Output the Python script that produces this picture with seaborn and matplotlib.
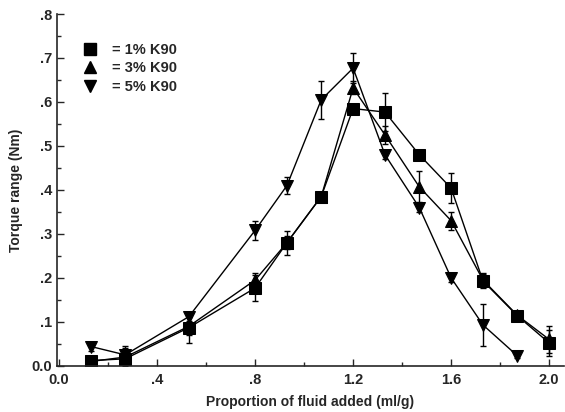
import numpy as np
import pandas as pd
import matplotlib
matplotlib.use("Agg")
import matplotlib.pyplot as plt
from matplotlib.lines import Line2D
from matplotlib.ticker import MultipleLocator
import seaborn as sns

sns.set_style("ticks")
plt.rcParams['font.family'] = ['Liberation Sans', 'DejaVu Sans']
plt.rcParams['font.weight'] = 'bold'

# fluid added (ml/g)
fluid = [0.13, 0.27, 0.53, 0.80, 0.93, 1.07, 1.20, 1.33, 1.47, 1.60, 1.73, 1.87, 2.00]

k1 = [0.012, 0.016, 0.087, 0.177, 0.280, 0.385, 0.585, 0.577, 0.480, 0.404, 0.193, 0.114, 0.052]
k1_err = [0.010, 0.030, 0.035, 0.030, 0.027, 0.010, 0.010, 0.043, 0.008, 0.034, 0.015, 0.008, 0.030]

k3 = [0.010, 0.020, 0.090, 0.195, 0.280, 0.385, 0.632, 0.525, 0.407, 0.330, 0.195, 0.115, 0.060]
k3_err = [0.010, 0.020, 0.020, 0.015, 0.015, 0.010, 0.015, 0.020, 0.035, 0.020, 0.015, 0.008, 0.030]

k5 = [0.044, 0.025, 0.112, 0.308, 0.410, 0.605, 0.677, 0.480, 0.360, 0.200, 0.093, 0.023]
k5_err = [0.010, 0.010, 0.010, 0.022, 0.020, 0.043, 0.034, 0.010, 0.010, 0.010, 0.047, 0.005]

labels = ['= 1% K90', '= 3% K90', '= 5% K90']
markers = ['s', '^', 'v']

series = [(k1, k1_err), (k3, k3_err), (k5, k5_err)]
frames = []
for lab, (vals, errs) in zip(labels, series):
    frames.append(pd.DataFrame({'fluid': fluid[:len(vals)], 'torque': vals,
                                'err': errs, 'group': lab}))
df = pd.concat(frames, ignore_index=True)

fig = plt.figure(figsize=(5.65, 4.12), dpi=100)
ax = fig.add_axes([0.101, 0.112, 0.897, 0.854])

sns.lineplot(data=df, x='fluid', y='torque', hue='group', style='group',
             palette=['black'] * 3, markers=dict(zip(labels, markers)),
             dashes=False, markersize=8, markeredgecolor='black',
             linewidth=1, legend=False, ax=ax)

for lab in labels:
    d = df[df.group == lab]
    ax.errorbar(d.fluid, d.torque, yerr=d.err, fmt='none', ecolor='black',
                elinewidth=1, capsize=2, capthick=1)

ax.set_xlim(-0.008, 2.06)
ax.set_ylim(0, 0.8)
ax.xaxis.set_major_locator(MultipleLocator(0.4))
ax.xaxis.set_minor_locator(MultipleLocator(0.2))
ax.yaxis.set_major_locator(MultipleLocator(0.1))
ax.yaxis.set_minor_locator(MultipleLocator(0.05))
ax.set_xticks([0, 0.4, 0.8, 1.2, 1.6, 2.0])
ax.set_xticklabels(['0.0', '.4', '.8', '1.2', '1.6', '2.0'])
ax.set_yticks([0, .1, .2, .3, .4, .5, .6, .7, .8])
ax.set_yticklabels(['0.0', '.1', '.2', '.3', '.4', '.5', '.6', '.7', '.8'])
ax.tick_params(which='major', direction='in', length=5, width=1, labelsize=10.5)
ax.tick_params(which='minor', direction='in', length=3, width=1)
ax.tick_params(axis='x', pad=5)
sns.despine(ax=ax)
for s in ['left', 'bottom']:
    ax.spines[s].set_linewidth(1.2)

ax.set_xlabel('Proportion of fluid added (ml/g)', fontsize=10, fontweight='bold', labelpad=6)
ax.set_ylabel('Torque range (Nm)', fontsize=10, fontweight='bold', labelpad=6)

handles = [Line2D([], [], color='black', marker=m, linestyle='none', markersize=8)
           for m in markers]
ax.legend(handles, labels, loc='upper left', bbox_to_anchor=(0.01, 0.955),
          frameon=False, fontsize=10.5, handletextpad=0.5, labelspacing=0.3)

plt.savefig('out.png', dpi=100)
